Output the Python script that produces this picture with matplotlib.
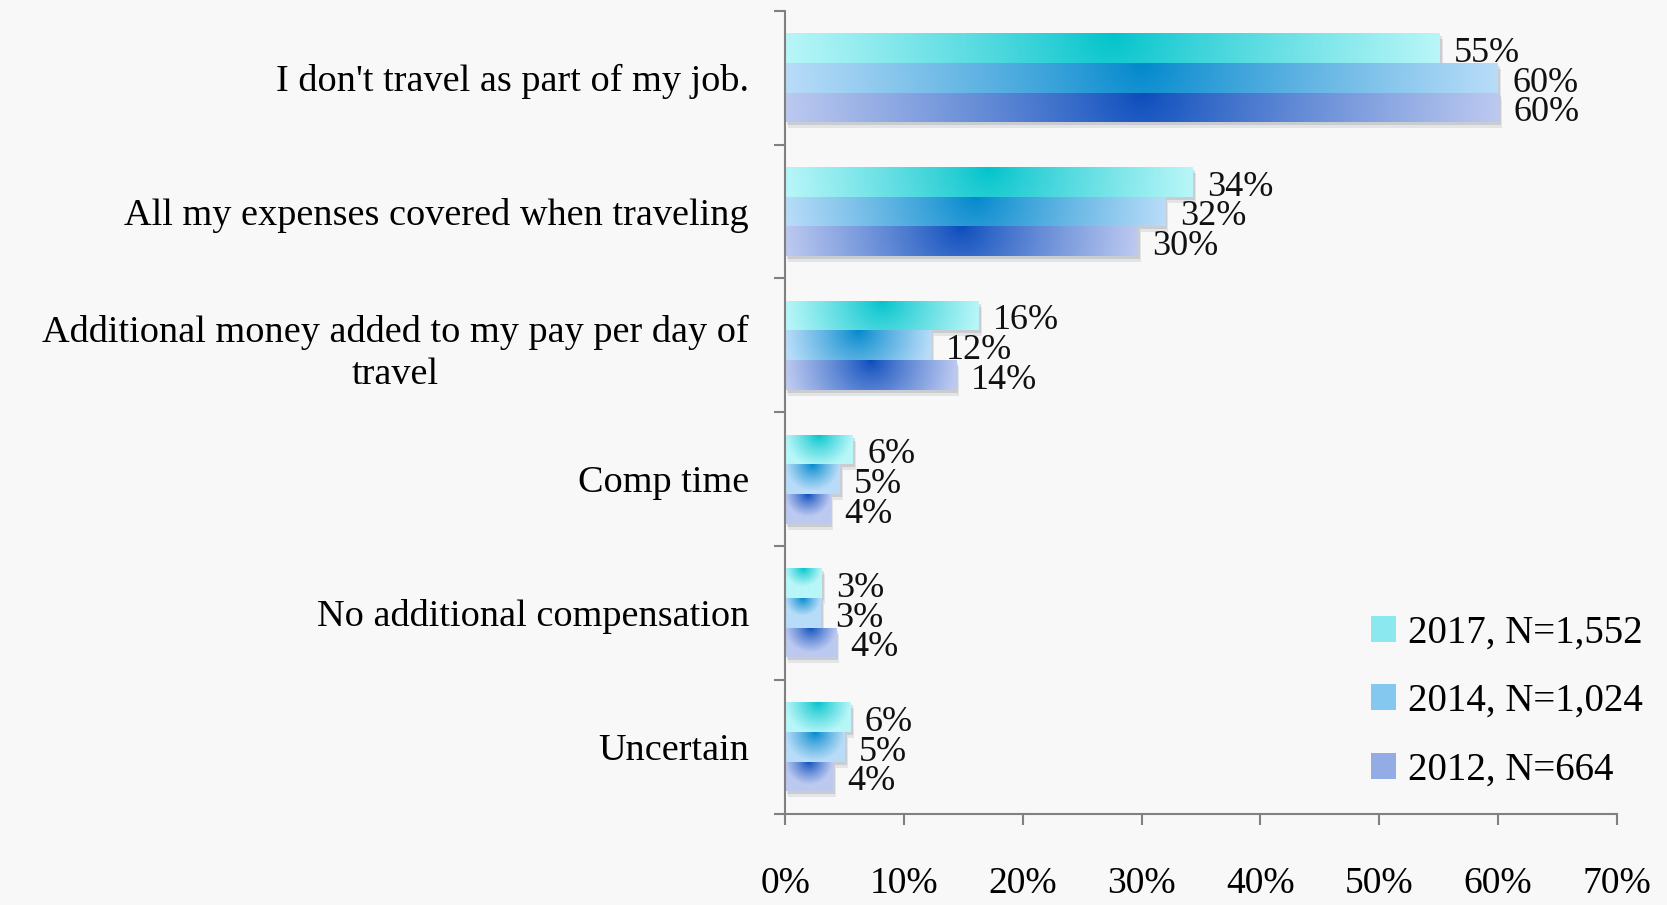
import numpy as np
import matplotlib
matplotlib.use('Agg')
import matplotlib.pyplot as plt
import matplotlib.transforms as mtransforms
from matplotlib.colors import to_rgb
from matplotlib.patches import Patch

plt.rcParams['font.family'] = ['Liberation Serif', 'DejaVu Serif']

# Data
categories = ["I don't travel as part of my job.",
              "All my expenses covered when traveling",
              "Additional money added to my pay per day of\ntravel",
              "Comp time",
              "No additional compensation",
              "Uncertain"]
series_names = ['2017, N=1,552', '2014, N=1,024', '2012, N=664']
vals_2017 = [55.1, 34.3, 16.3, 5.7, 3.1, 5.5]
vals_2014 = [60.0, 32.0, 12.3, 4.6, 3.0, 5.0]
vals_2012 = [60.1, 29.7, 14.4, 3.8, 4.3, 4.0]
labels_2017 = ['55%', '34%', '16%', '6%', '3%', '6%']
labels_2014 = ['60%', '32%', '12%', '5%', '3%', '5%']
labels_2012 = ['60%', '30%', '14%', '4%', '4%', '4%']
xticks = [0, 10, 20, 30, 40, 50, 60, 70]

light_cols = ['#b8f6f8', '#b8dcf8', '#bcc9f0']
dark_cols = ['#00c3cb', '#0088cc', '#0a4cbc']

bg = '#f8f8f8'
fig = plt.figure(figsize=(16.67, 9.05), dpi=100, facecolor=bg)
ax = fig.add_axes([0.471, 0.101, 0.499, 0.887])
ax.set_facecolor(bg)

ax.set_xlim(0, 70)
ax.set_ylim(5.5, -0.5)

bar_h = 0.222
y = np.arange(len(categories))
offsets = [-bar_h, 0, bar_h]
series = [vals_2017, vals_2014, vals_2012]
labels = [labels_2017, labels_2014, labels_2012]

shadow_tr = mtransforms.offset_copy(ax.transData, fig=fig, x=3, y=-6, units='dots')
shadow_tr2 = mtransforms.offset_copy(ax.transData, fig=fig, x=2, y=-3, units='dots')

for i, vals in enumerate(series):
    # soft drop shadow
    for tr, a in [(shadow_tr, 0.12), (shadow_tr2, 0.16)]:
        sh = ax.barh(y + offsets[i], vals, height=bar_h, color='#4a5a68', alpha=a,
                     linewidth=0, zorder=1)
        for p in sh.patches:
            p.set_transform(tr)
    bars = ax.barh(y + offsets[i], vals, height=bar_h, color='none',
                   linewidth=0, zorder=2, label=series_names[i])
    lc = np.array(to_rgb(light_cols[i]))
    dc = np.array(to_rgb(dark_cols[i]))
    for p, v in zip(bars.patches, vals):
        x0, y0 = p.get_x(), p.get_y()
        w, h = p.get_width(), p.get_height()
        # pixel size of the bar
        (px0, py0), (px1, py1) = ax.transData.transform([(x0, y0), (x0 + w, y0 + h)])
        wp, hp = abs(px1 - px0), abs(py1 - py0)
        nx, ny = 200, 30
        gx = np.linspace(-wp / 2, wp / 2, nx)
        gy = np.linspace(0, hp, ny)  # distance from visual bottom
        GX, GY = np.meshgrid(gx, gy)
        t = np.clip(np.sqrt(GX ** 2 + GY ** 2) / (wp / 2 + 1e-9), 0, 1) ** 0.85
        img = dc[None, None, :] * (1 - t[..., None]) + lc[None, None, :] * t[..., None]
        # row 0 = visual bottom = data y0 + h (axis inverted)
        im = ax.imshow(img, extent=(x0, x0 + w, y0 + h, y0), origin='upper',
                       aspect='auto', interpolation='bilinear', zorder=2)
        im.set_clip_path(p)
    for yy, v, lab in zip(y + offsets[i], vals, labels[i]):
        ax.text(v + 1.2, yy + 0.04, lab, va='center', ha='left', fontsize=26,
                color='#111111', zorder=4)

ax.set_xlim(0, 70)
ax.set_ylim(5.5, -0.5)

ax.set_xticks(xticks)
ax.set_xticklabels([f'{t}%' for t in xticks], fontsize=27)
ax.set_yticks(y)
ax.set_yticklabels(categories, fontsize=27.5, multialignment='center',
                   linespacing=1.3)
ax.set_yticks(np.arange(-0.5, 6.0, 1.0), minor=True)
ax.tick_params(axis='y', which='major', length=0, pad=26)
ax.tick_params(axis='y', which='minor', length=8, width=1.5, color='#808080')
ax.tick_params(axis='x', which='major', length=8, width=1.5, color='#808080',
               pad=30)

for s in ['top', 'right']:
    ax.spines[s].set_visible(False)
for s in ['left', 'bottom']:
    ax.spines[s].set_color('#808080')
    ax.spines[s].set_linewidth(1.5)

handles = [Patch(facecolor=c, edgecolor='none') for c in ['#8ae8ee', '#84c8f0', '#93ace6']]
ax.legend(handles, series_names, loc='lower right', bbox_to_anchor=(1.073, -0.012),
          frameon=False, fontsize=28, handlelength=0.65, handleheight=0.65,
          handletextpad=0.3, labelspacing=0.8)

fig.savefig('out.png', dpi=100, facecolor=bg)
